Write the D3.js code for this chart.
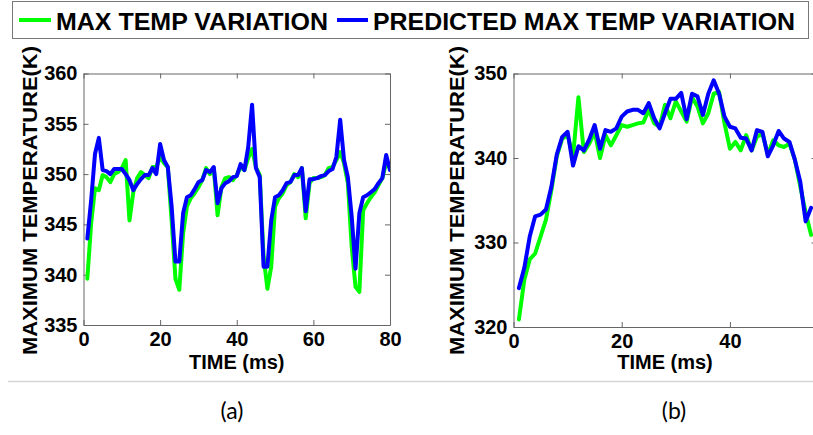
<!DOCTYPE html>
<html>
<head>
<meta charset="utf-8">
<script src="https://cdn.jsdelivr.net/npm/d3@7"></script>
<style>
  html, body { margin: 0; padding: 0; background: #fff; }
  svg { display: block; }
  .bold { font-family: "Liberation Sans", Arial, sans-serif; font-weight: bold; fill: #000; }
</style>
</head>
<body>
<svg id="chart" width="813" height="435"></svg>
<script>
// ---------------- DATA ----------------
const seriesNames = ["MAX TEMP VARIATION", "PREDICTED MAX TEMP VARIATION"];
const seriesColors = ["#00ff00", "#0000ff"];

// Panel (a): time 1..80 ms
const timeA = d3.range(1, 81);
const maxTempA = [
  339.6, 345.1, 348.6, 348.4, 349.9, 349.7, 349.2, 350.0, 350.2, 350.6,
  351.4, 345.4, 348.2, 349.6, 350.2, 349.9, 349.6, 350.7, 350.7, 351.7,
  351.1, 350.7, 345.4, 339.6, 338.5, 344.1, 346.8, 347.6, 348.1, 348.7,
  349.4, 350.6, 350.0, 350.6, 345.9, 348.7, 349.6, 349.7, 349.4, 349.9,
  350.7, 350.4, 351.6, 352.5, 350.7, 349.9, 341.8, 338.6, 340.8, 346.8,
  347.6, 348.1, 348.9, 349.2, 350.0, 349.7, 350.6, 345.6, 349.1, 349.6,
  349.6, 349.7, 349.9, 350.6, 350.7, 351.4, 352.2, 351.1, 349.1, 342.8,
  338.8, 338.3, 346.4, 347.1, 347.7, 348.2, 348.9, 349.6, 351.1, 350.6
];
const predTempA = [
  343.6, 347.4, 352.0, 353.6, 350.4, 350.3, 350.0, 350.5, 350.5, 350.5,
  350.0, 349.4, 348.4, 349.0, 349.5, 349.9, 349.9, 350.6, 350.0, 353.0,
  351.4, 350.7, 346.8, 341.3, 341.3, 346.1, 347.7, 347.9, 348.5, 349.2,
  349.4, 350.4, 350.2, 350.7, 347.1, 348.6, 349.1, 349.3, 349.7, 349.8,
  351.0, 350.4, 352.7, 356.9, 350.6, 349.7, 340.8, 340.8, 345.4, 347.7,
  347.9, 348.4, 349.1, 349.2, 349.9, 349.9, 350.6, 346.3, 349.5, 349.5,
  349.6, 349.8, 349.9, 350.3, 350.5, 351.7, 355.4, 351.4, 349.7, 345.8,
  340.6, 346.1, 347.7, 347.9, 348.2, 348.5, 349.1, 349.6, 351.9, 350.4
];

// Panel (b): time 1..55 ms
const timeB = d3.range(1, 56);
const maxTempB = [
  320.9, 325.6, 328.0, 328.7, 330.7, 332.7, 336.2, 340.2, 342.3, 342.7,
  340.2, 347.2, 340.7, 341.7, 343.1, 340.0, 342.7, 341.5, 342.7, 343.9,
  343.7, 343.9, 344.1, 344.2, 345.7, 344.1, 343.7, 346.3, 344.7, 346.7,
  345.5, 344.3, 347.2, 346.1, 344.1, 345.3, 347.6, 347.8, 344.1, 341.1,
  341.9, 340.9, 342.7, 340.9, 342.5, 342.9, 340.4, 342.1, 341.5, 341.3,
  341.7, 339.8, 336.6, 333.5, 330.9
];
const predTempB = [
  324.6, 327.0, 330.7, 333.1, 333.3, 333.9, 336.6, 340.4, 342.5, 343.1,
  339.1, 341.4, 340.9, 342.2, 343.9, 341.1, 343.3, 343.1, 343.5, 344.9,
  345.5, 345.7, 345.7, 345.3, 346.5, 344.7, 343.5, 345.3, 347.0, 347.0,
  347.7, 344.6, 347.6, 347.3, 345.1, 347.6, 349.2, 347.6, 344.9, 343.7,
  343.5, 342.4, 342.3, 340.9, 343.3, 343.1, 340.2, 341.5, 343.2, 342.3,
  341.9, 339.8, 337.2, 332.5, 334.1
];

// Tick labels
const xTicksA = [0, 20, 40, 60, 80];
const yTicksA = [335, 340, 345, 350, 355, 360];
const xTicksB = [0, 20, 40];
const yTicksB = [320, 330, 340, 350];
const xLabel = "TIME (ms)";
const yLabel = "MAXIMUM TEMPERATURE(K)";
const panelCaptions = ["(a)", "(b)"];

// ---------------- DRAW ----------------
const svg = d3.select("#chart");
const FONT = '"Liberation Sans", Arial, sans-serif';
const AXIS_COLOR = "#666";

// Legend box
const legend = svg.append("g");
legend.append("rect")
  .attr("x", 12.5).attr("y", 1.5).attr("width", 796).attr("height", 37)
  .attr("fill", "#fff").attr("stroke", "#777").attr("stroke-width", 1);
const legendItems = [
  { x0: 19, x1: 51, tx: 56, len: 272 },
  { x0: 337, x1: 368, tx: 373, len: 422 }
];
legendItems.forEach((it, i) => {
  legend.append("line")
    .attr("x1", it.x0).attr("x2", it.x1).attr("y1", 20).attr("y2", 20)
    .attr("stroke", seriesColors[i]).attr("stroke-width", 4);
  legend.append("text").attr("class", "bold")
    .attr("x", it.tx).attr("y", 29.5)
    .attr("textLength", it.len).attr("lengthAdjust", "spacingAndGlyphs")
    .style("font-size", "24.5px")
    .text(seriesNames[i]);
});

function panel(cfg) {
  const x = d3.scaleLinear().domain(cfg.xDomain).range([cfg.left, cfg.right]);
  const y = d3.scaleLinear().domain(cfg.yDomain).range([cfg.bottom, cfg.top]);
  const g = svg.append("g");

  const clipId = "clip" + cfg.id;
  svg.append("clipPath").attr("id", clipId).append("rect")
    .attr("x", cfg.left).attr("y", cfg.top - 10)
    .attr("width", cfg.right - cfg.left).attr("height", cfg.bottom - cfg.top + 20);

  const styleAxis = sel => {
    sel.selectAll("path.domain").attr("stroke", AXIS_COLOR).attr("stroke-width", 1);
    sel.selectAll(".tick line").attr("stroke", AXIS_COLOR).attr("stroke-width", 1);
    sel.selectAll("text")
      .attr("fill", "#000")
      .style("font-family", FONT).style("font-weight", "bold").style("font-size", "20px");
  };
  g.append("g").attr("transform", `translate(0,${cfg.top})`)
    .call(d3.axisTop(x).tickValues(cfg.xTicks).tickFormat("").tickSizeInner(-5).tickSizeOuter(0))
    .call(styleAxis);
  g.append("g").attr("transform", `translate(${cfg.right},0)`)
    .call(d3.axisRight(y).tickValues(cfg.yTicks).tickFormat("").tickSizeInner(-5).tickSizeOuter(0))
    .call(styleAxis);
  g.append("g").attr("transform", `translate(0,${cfg.bottom})`)
    .call(d3.axisBottom(x).tickValues(cfg.xTicks).tickFormat(d3.format("d")).tickSizeInner(-5).tickSizeOuter(0).tickPadding(7))
    .call(styleAxis);
  g.append("g").attr("transform", `translate(${cfg.left},0)`)
    .call(d3.axisLeft(y).tickValues(cfg.yTicks).tickFormat(d3.format("d")).tickSizeInner(-5).tickSizeOuter(0).tickPadding(6))
    .call(styleAxis);

  const line = d3.line().x(d => x(d[0])).y(d => y(d[1]));
  const lines = g.append("g").attr("clip-path", `url(#${clipId})`);
  cfg.series.forEach((vals, i) => {
    lines.append("path")
      .datum(cfg.time.map((t, k) => [t, vals[k]]))
      .attr("d", line)
      .attr("fill", "none")
      .attr("stroke", seriesColors[i])
      .attr("stroke-width", 4)
      .attr("stroke-linejoin", "round")
      .attr("stroke-linecap", "round");
  });

  g.append("text").attr("class", "bold")
    .attr("x", (cfg.left + cfg.right) / 2).attr("y", 369)
    .attr("text-anchor", "middle")
    .style("font-size", "20px")
    .text(xLabel);
  g.append("text").attr("class", "bold")
    .attr("transform", `translate(${cfg.ylx},200.5) rotate(-90)`)
    .attr("text-anchor", "middle")
    .attr("dy", "0.36em")
    .attr("textLength", 309).attr("lengthAdjust", "spacingAndGlyphs")
    .style("font-size", "20.5px")
    .text(yLabel);

  svg.append("text")
    .attr("x", cfg.capX).attr("y", 419)
    .attr("text-anchor", "middle")
    .style("font-family", "Lato, 'Open Sans', sans-serif")
    .style("font-size", "23px")
    .attr("fill", "#000")
    .text(cfg.caption);
}

panel({
  id: "A", left: 83.5, right: 390, top: 73.5, bottom: 325,
  xDomain: [0, 80], yDomain: [335, 360],
  xTicks: xTicksA, yTicks: yTicksA,
  time: timeA, series: [maxTempA, predTempA],
  ylx: 29.5, capX: 232, caption: panelCaptions[0]
});
panel({
  id: "B", left: 513.5, right: 816.5, top: 73.5, bottom: 327,
  xDomain: [0, 56], yDomain: [320, 350],
  xTicks: xTicksB, yTicks: yTicksB,
  time: timeB, series: [maxTempB, predTempB],
  ylx: 457, capX: 674, caption: panelCaptions[1]
});

svg.append("line")
  .attr("x1", 8).attr("x2", 813).attr("y1", 381.5).attr("y2", 381.5)
  .attr("stroke", "#d4d4d4").attr("stroke-width", 1.5);
</script>
</body>
</html>
